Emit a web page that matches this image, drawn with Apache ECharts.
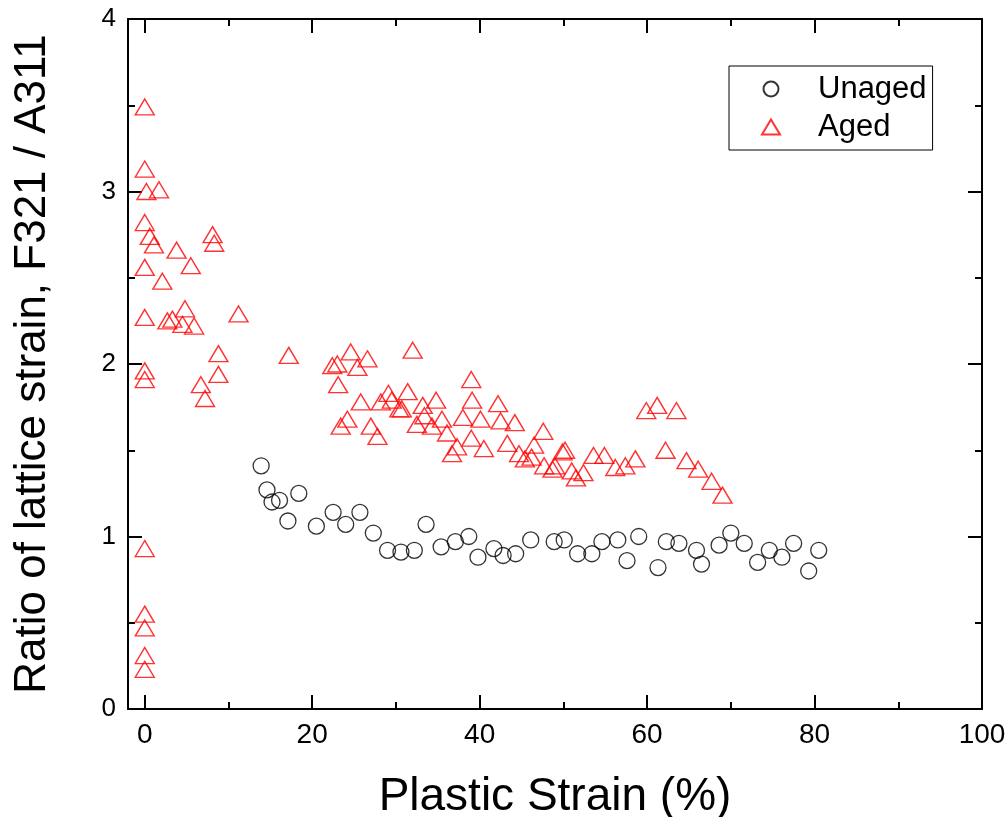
<!DOCTYPE html>
<html>
<head>
<meta charset="utf-8">
<script src="https://cdn.jsdelivr.net/npm/echarts@6/dist/echarts.min.js"></script>
<style>
  html, body {margin: 0; padding: 0; background: #fff;}
  #chart {width: 1008px; height: 817px;}
</style>
</head>
<body>
<div id="chart"></div>
<script>
// Unaged: [plastic strain %, ratio]
const unaged = [
  [13.9, 1.41], [14.6, 1.27], [15.2, 1.20], [16.1, 1.21], [17.1, 1.09], [18.4, 1.25],
  [20.5, 1.06], [22.5, 1.14], [24.0, 1.07], [25.7, 1.14], [27.3, 1.02], [29.0, 0.92],
  [30.6, 0.91], [32.2, 0.92], [33.6, 1.07], [35.4, 0.94], [37.1, 0.97], [38.7, 1.00],
  [39.8, 0.88], [41.7, 0.93], [42.8, 0.89], [44.3, 0.90], [46.1, 0.98], [48.9, 0.97],
  [50.1, 0.98], [51.7, 0.90], [53.4, 0.90], [54.6, 0.97], [56.5, 0.98], [57.6, 0.86],
  [59.0, 1.00], [61.3, 0.82], [62.3, 0.97], [63.8, 0.96], [65.9, 0.92], [66.5, 0.84],
  [68.6, 0.95], [70.0, 1.02], [71.6, 0.96], [73.2, 0.85], [74.6, 0.92], [76.1, 0.88],
  [77.5, 0.96], [79.3, 0.80], [80.5, 0.92]
]

// Aged
const aged = [
  [0, 3.49], [0, 3.13], [0.2, 3.00], [1.7, 3.01], [0, 2.82], [0.6, 2.74], [1.1, 2.69],
  [8.1, 2.75], [8.3, 2.70], [3.8, 2.66], [5.5, 2.57], [0, 2.56], [2.1, 2.48], [0, 2.27],
  [2.7, 2.25], [3.3, 2.26], [4.8, 2.32], [4.5, 2.23], [5.9, 2.22], [11.2, 2.29],
  [8.8, 2.06], [17.2, 2.05], [0, 1.96], [0, 1.91], [8.8, 1.94], [6.7, 1.88], [7.2, 1.80],
  [0, 0.93], [0, 0.55], [0, 0.47], [0, 0.31], [0, 0.23],
  [22.4, 1.99], [23.0, 2.00], [24.6, 2.07], [26.6, 2.03], [25.4, 1.98], [32.0, 2.08],
  [23.1, 1.88], [23.4, 1.64], [24.2, 1.68], [27.0, 1.64], [27.8, 1.58],
  [39.0, 1.91], [25.8, 1.78], [28.2, 1.78], [29.1, 1.83], [29.5, 1.79], [31.4, 1.84],
  [30.4, 1.74], [30.7, 1.74], [33.2, 1.76], [34.8, 1.79], [33.4, 1.70], [32.5, 1.65],
  [34.3, 1.64], [35.5, 1.68], [36.1, 1.60], [38.0, 1.69], [39.1, 1.79], [40.1, 1.68],
  [42.2, 1.77], [42.5, 1.67], [44.2, 1.66], [39.0, 1.57], [37.3, 1.52], [36.7, 1.48],
  [40.5, 1.51], [43.3, 1.54], [44.7, 1.48], [45.4, 1.45], [46.5, 1.53], [47.6, 1.61],
  [46.2, 1.46], [47.7, 1.41], [48.7, 1.39], [49.0, 1.41], [50.2, 1.50], [49.9, 1.49],
  [51.0, 1.38], [51.5, 1.34], [52.4, 1.37], [53.6, 1.47], [54.9, 1.47], [56.2, 1.40],
  [57.4, 1.41], [58.6, 1.45], [59.9, 1.73], [61.2, 1.76], [63.5, 1.73], [62.2, 1.50],
  [64.7, 1.44], [66.1, 1.39], [67.7, 1.32], [69.0, 1.24]
]

const xMin = -2
const xMax = 100

const font = 'Liberation Sans, Arial, sans-serif'
const black = '#000'
const plotLeft = 128
const plotRight = 26
const plotW = 1008 - plotLeft - plotRight
// tick grid starts at x = 0 so the 0/20/40... ticks come from min
const tickLeft = plotLeft + plotW * (0 - xMin) / (xMax - xMin)

const gridBox = {right: plotRight, top: 19, bottom: 108, outerBoundsMode: 'none', containLabel: false}

const tickAxis = (position, showLabel) => ({
  type: 'value',
  gridIndex: 1,
  position,
  min: 0,
  max: xMax,
  interval: 20,
  splitLine: {show: false},
  axisLine: {show: false, onZero: false},
  axisTick: {show: true, inside: true, length: 14, lineStyle: {color: black, width: 2}},
  minorTick: {show: true, splitNumber: 2, length: 7, lineStyle: {color: black, width: 2}},
  axisLabel: showLabel
    ? {fontSize: 28, fontFamily: font, color: black, margin: 12}
    : {show: false},
})

const chart = echarts.init(document.getElementById('chart'))

chart.setOption({
  animation: false,
  backgroundColor: '#fff',
  grid: [
    Object.assign({left: plotLeft}, gridBox),
    Object.assign({left: tickLeft}, gridBox),
  ],
  legend: {
    orient: 'vertical',
    left: 729,
    top: 66,
    padding: [5, 6, 5, 32],
    itemWidth: 18,
    itemHeight: 15,
    itemGap: 2,
    borderColor: black,
    borderWidth: 1,
    textStyle: {fontSize: 31, fontFamily: font, color: black, lineHeight: 36, padding: [0, 0, 0, 33]},
    data: ['Unaged', 'Aged'],
  },
  xAxis: [
    {
      type: 'value', gridIndex: 0, position: 'bottom',
      min: xMin, max: xMax,
      splitLine: {show: false},
      axisLine: {onZero: false, lineStyle: {color: black, width: 2}},
      axisTick: {show: false},
      axisLabel: {show: false},
      name: 'Plastic Strain (%)',
      nameLocation: 'middle',
      nameGap: 65,
      nameTextStyle: {fontSize: 46, fontFamily: font, color: black},
    },
    {
      type: 'value', gridIndex: 0, position: 'top',
      min: xMin, max: xMax,
      splitLine: {show: false},
      axisLine: {onZero: false, lineStyle: {color: black, width: 2}},
      axisTick: {show: false},
      axisLabel: {show: false},
    },
    tickAxis('bottom', true),
    tickAxis('top', false),
  ],
  yAxis: [
    {
      type: 'value', gridIndex: 0, position: 'left',
      min: 0, max: 4, interval: 1,
      splitLine: {show: false},
      axisLine: {show: true, onZero: false, lineStyle: {color: black, width: 2}},
      axisTick: {show: true, inside: true, length: 14, lineStyle: {color: black, width: 2}},
      minorTick: {show: true, splitNumber: 2, length: 7, lineStyle: {color: black, width: 2}},
      axisLabel: {fontSize: 26, fontFamily: font, color: black, margin: 12},
      name: 'Ratio of lattice strain, F321 / A311',
      nameLocation: 'middle',
      nameGap: 73,
      nameTextStyle: {fontSize: 44, fontFamily: font, color: black},
    },
    {
      type: 'value', gridIndex: 0, position: 'right',
      min: 0, max: 4, interval: 1,
      splitLine: {show: false},
      axisLine: {show: true, onZero: false, lineStyle: {color: black, width: 2}},
      axisTick: {show: true, inside: true, length: 14, lineStyle: {color: black, width: 2}},
      minorTick: {show: true, splitNumber: 2, length: 7, lineStyle: {color: black, width: 2}},
      axisLabel: {show: false},
    },
    {type: 'value', gridIndex: 1, min: 0, max: 4, show: false, axisLine: {onZero: false}},
  ],
  series: [
    {
      name: 'Unaged',
      type: 'scatter',
      xAxisIndex: 0,
      yAxisIndex: 0,
      symbol: 'circle',
      symbolSize: 16,
      itemStyle: {color: 'rgba(0,0,0,0)', borderColor: black, borderWidth: 1.3},
      data: unaged,
    },
    {
      name: 'Aged',
      type: 'scatter',
      xAxisIndex: 0,
      yAxisIndex: 0,
      symbol: 'triangle',
      symbolSize: [19, 16],
      itemStyle: {color: 'rgba(0,0,0,0)', borderColor: '#ff0000', borderWidth: 1.4},
      data: aged,
    },
  ],
})
</script>
</body>
</html>
